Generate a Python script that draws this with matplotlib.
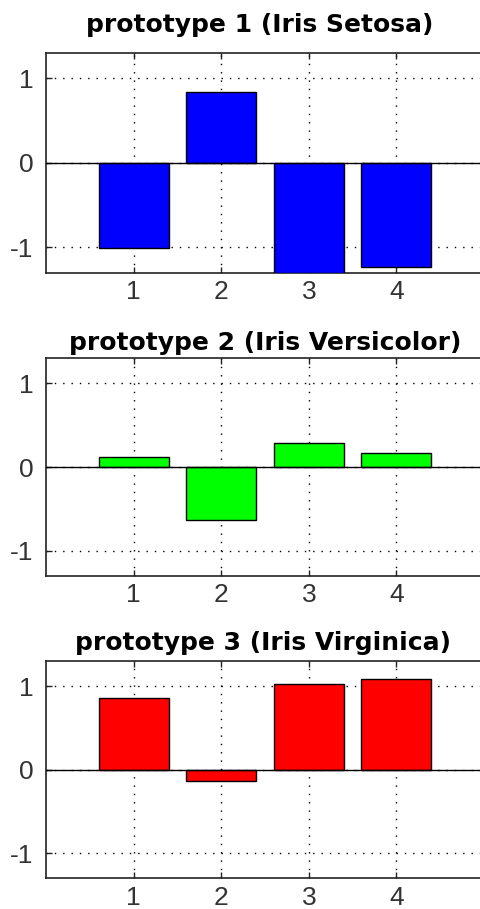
import matplotlib
matplotlib.use("Agg")
import matplotlib.pyplot as plt

plt.rcParams["axes.unicode_minus"] = False

features = [1, 2, 3, 4]
titles = [
    "prototype 1 (Iris Setosa)",
    "prototype 2 (Iris Versicolor)",
    "prototype 3 (Iris Virginica)",
]
setosa = [-1.01, 0.84, -1.30, -1.23]
versicolor = [0.12, -0.63, 0.29, 0.17]
virginica = [0.86, -0.13, 1.03, 1.09]
colors = ["#0000ff", "#00ff00", "#ff0000"]
y_ticks = [-1, 0, 1]

W, H = 481, 909
fig = plt.figure(figsize=(W / 100, H / 100), dpi=100)

# axes boxes in pixel units: (top, bottom)
boxes = [(52.7, 272.7), (358.3, 575.7), (661.0, 878.3)]
# title anchor (center x, baseline y) in pixels
title_pos = [(260, 32), (265, 350), (263, 650)]
left_px, right_px = 46.0, 484.0

for series, title, color, (top, bot), (tx, ty) in zip(
        [setosa, versicolor, virginica], titles, colors, boxes, title_pos):
    ax = fig.add_axes([left_px / W, 1 - bot / H,
                       (right_px - left_px) / W, (bot - top) / H])
    ax.bar(features, series, width=0.8, color=color,
           edgecolor="black", linewidth=1.0, zorder=3)
    ax.axhline(0, color="black", linewidth=1.0, zorder=4)
    ax.set_xlim(0, 5)
    ax.set_ylim(-1.3, 1.3)
    ax.set_xticks(features)
    ax.set_yticks(y_ticks)
    ax.grid(True, linestyle=(0, (1, 5)), color="black", linewidth=1.0,
            zorder=1)
    ax.tick_params(direction="in", length=4, width=1, top=True,
                   right=False, labelsize=19, colors="#222222",
                   labelcolor="#333333")
    ax.tick_params(axis="x", pad=5.5)
    ax.tick_params(axis="y", pad=9)
    for lab in ax.get_xticklabels() + ax.get_yticklabels():
        lab.set_family("Liberation Sans")
    for s in ax.spines.values():
        s.set_linewidth(1.2)
        s.set_color("#222222")
    fig.text(tx / W, 1 - ty / H, title, ha="center", va="baseline",
             fontsize=18, fontweight="bold", family="DejaVu Sans")

fig.savefig("out.png", dpi=100)
